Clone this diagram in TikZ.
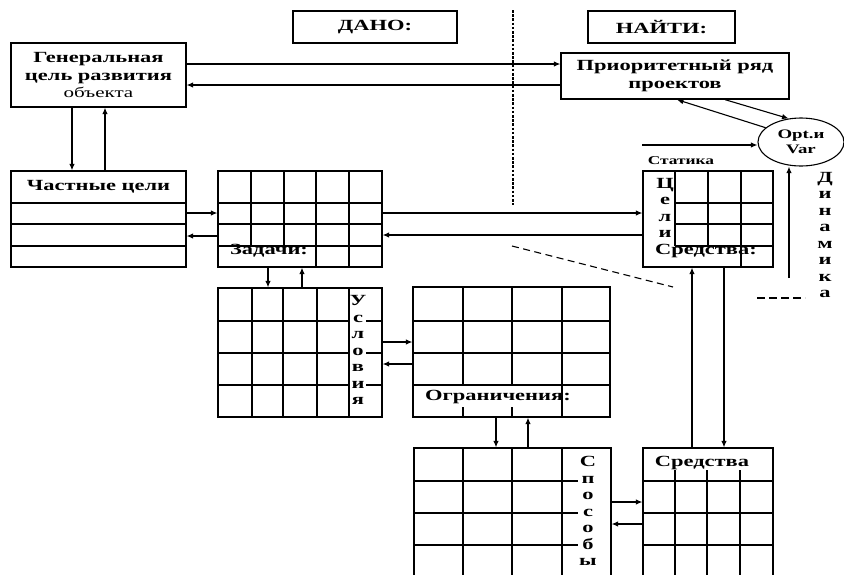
\documentclass[tikz,border=0pt]{standalone}
\usepackage{fontspec}
\setmainfont{Liberation Serif}[FakeStretch=1.45]
\usetikzlibrary{arrows.meta,shapes.geometric}
\begin{document}
\begin{tikzpicture}[x=1pt,y=-1pt,line width=1.1pt,
  box/.style={draw,rectangle,inner sep=0pt,line width=1.3pt},
  arr/.style={-{Latex[length=6.5pt,width=5.5pt]},line width=1.1pt},
  lbl/.style={font=\fontsize{15.5}{18}\selectfont\bfseries,inner sep=0pt},
  vlet/.style={font=\fontsize{15.5}{16.5}\selectfont\bfseries,align=center,inner sep=0pt},
  gl/.style={line width=1.1pt}]
\useasboundingbox (0,0) rectangle (844,574);
\clip (0,0) rectangle (844,574);
\fill[white] (0,0) rectangle (844,574);

% header boxes
\node[box,minimum width=164pt,minimum height=32pt,lbl] (dano) at (375,27) {ДАНО:};
\node[box,minimum width=147pt,minimum height=32pt,lbl] (najti) at (661.5,27) {НАЙТИ:};
\draw[line width=1.6pt,dash pattern=on 2.5pt off 1.7pt] (513,10) -- (513,205);

% general goal and priority
\node[box,minimum width=175pt,minimum height=64pt,align=center,font=\fontsize{15.5}{17.5}\selectfont] (gen) at (98.5,75)
  {\bfseries Генеральная\\\bfseries цель развития\\\mdseries\fontsize{14.5}{17.5}\selectfont объекта};
\node[box,minimum width=228pt,minimum height=46pt,align=center,font=\fontsize{15.5}{18}\selectfont\bfseries] (prior) at (675,76)
  {Приоритетный ряд\\проектов};
\node[draw,ellipse,minimum width=86pt,minimum height=48pt,inner sep=0pt,line width=1.1pt,align=center,
  font=\fontsize{13}{14.5}\selectfont\bfseries] (opt) at (801,142) {Opt.и\\Var};

\draw[arr] (gen.east |- 0,64) -- (prior.west |- 0,64);
\draw[arr] (prior.west |- 0,85) -- (gen.east |- 0,85);
\draw[arr] (prior.south -| 725,0) -- (opt.118);
\draw[arr] (opt.158) -- (prior.south -| 677,0);

\node[font=\fontsize{12}{14}\selectfont\bfseries,inner sep=0pt] (statl) at (681,161) {Статика};
\coordinate (sin) at (642,145);
\draw[arr] (sin) -- ([yshift=-3pt]opt.west);
\node[vlet] (dyn) at (825,235) {Д\\и\\н\\а\\м\\и\\к\\а};
\coordinate (dynin) at (789,278);
\draw[arr] (dynin) -- (dynin |- opt.south);
\draw[line width=1.1pt,dash pattern=on 8pt off 4pt] (757,298) -- (805,298);

% partial goals
\node[box,minimum width=175pt,minimum height=96pt] (chast) at (98.5,219) {};
\draw[gl] (11,203) -- (186,203) (11,224) -- (186,224) (11,246) -- (186,246);
\node[lbl] (chastl) at (98.5,187) {Частные цели};
\draw[arr] (gen.south -| 72,0) -- (chast.north -| 72,0);
\draw[arr] (chast.north -| 105,0) -- (gen.south -| 105,0);

% tasks
\node[box,minimum width=164pt,minimum height=96pt] (zad) at (300,219) {};
\draw[gl] (251,171) -- (251,246) (284,171) -- (284,246) (316,171) -- (316,267) (349,171) -- (349,267)
  (218,203) -- (382,203) (218,224) -- (382,224) (218,246) -- (382,246);
\node[lbl] (zadl) at (269,251) {Задачи:};
\draw[arr] (chast.east |- 0,213) -- (zad.west |- 0,213);
\draw[arr] (zad.west |- 0,236) -- (chast.east |- 0,236);

% statics grid
\node[box,minimum width=130pt,minimum height=96pt] (stat) at (708,219) {};
\draw[gl] (675,171) -- (675,246) (708,171) -- (708,246) (741,171) -- (741,267)
  (675,203) -- (773,203) (675,224) -- (773,224) (675,246) -- (773,246);
\node[vlet] (celi) at (665,208) {Ц\\е\\л\\и};
\node[lbl] (sredl1) at (706,251) {Средства:};
\draw[arr] (zad.east |- 0,213) -- (stat.west |- 0,213);
\draw[arr] (stat.west |- 0,235) -- (zad.east |- 0,235);
\draw[line width=1.1pt,dash pattern=on 7pt off 4.5pt] (512,246) -- (673,287);

% conditions
\node[box,minimum width=164pt,minimum height=129pt] (usl) at (300,352.5) {};
\draw[gl] (252,288) -- (252,417) (283,288) -- (283,417) (317,288) -- (317,417) (349,288) -- (349,417)
  (218,321) -- (349,321) (366,321) -- (382,321)
  (218,353) -- (349,353) (366,353) -- (382,353)
  (218,385) -- (349,385) (366,385) -- (382,385);
\node[vlet] (usll) at (358,350) {У\\с\\л\\о\\в\\и\\я};
\draw[arr] (zad.south -| 268,0) -- (usl.north -| 268,0);
\draw[arr] (usl.north -| 302,0) -- (zad.south -| 302,0);

% restrictions
\node[box,minimum width=197pt,minimum height=130pt] (ogr) at (511.5,352) {};
\draw[gl] (463,287) -- (463,385) (512,287) -- (512,385) (562,287) -- (562,417)
  (463,407) -- (463,417) (512,407) -- (512,417)
  (413,321) -- (610,321) (413,353) -- (610,353) (413,385) -- (610,385);
\node[lbl] (ogrl) at (498,397) {Ограничения:};
\draw[arr] (usl.east |- 0,342) -- (ogr.west |- 0,342);
\draw[arr] (ogr.west |- 0,364) -- (usl.east |- 0,364);

% ways
\node[box,minimum width=197pt,minimum height=164pt] (spos) at (512.5,530) {};
\draw[line width=2.2pt] (611,448) -- (611,612);
\draw[gl] (463,448) -- (463,612) (512,448) -- (512,612) (562,448) -- (562,612)
  (414,481) -- (578,481) (414,513) -- (578,513) (414,545) -- (578,545);
\node[vlet] (sposl) at (588,511) {С\\п\\о\\с\\о\\б\\ы};
\draw[arr] (ogr.south -| 496,0) -- (spos.north -| 496,0);
\draw[arr] (spos.north -| 528,0) -- (ogr.south -| 528,0);

% means
\node[box,minimum width=130pt,minimum height=164pt] (sred) at (708,530) {};
\draw[gl] (675,470) -- (675,612) (707,470) -- (707,612) (740,470) -- (740,612)
  (643,481) -- (773,481) (643,513) -- (773,513) (643,545) -- (773,545);
\node[lbl] (sredl2) at (702,463) {Средства};
\draw[arr] (spos.east |- 0,502) -- (sred.west |- 0,502);
\draw[arr] (sred.west |- 0,524) -- (spos.east |- 0,524);
\draw[arr] (sred.north -| 692,0) -- (stat.south -| 692,0);
\draw[arr] (stat.south -| 724,0) -- (sred.north -| 724,0);
\end{tikzpicture}
\end{document}
